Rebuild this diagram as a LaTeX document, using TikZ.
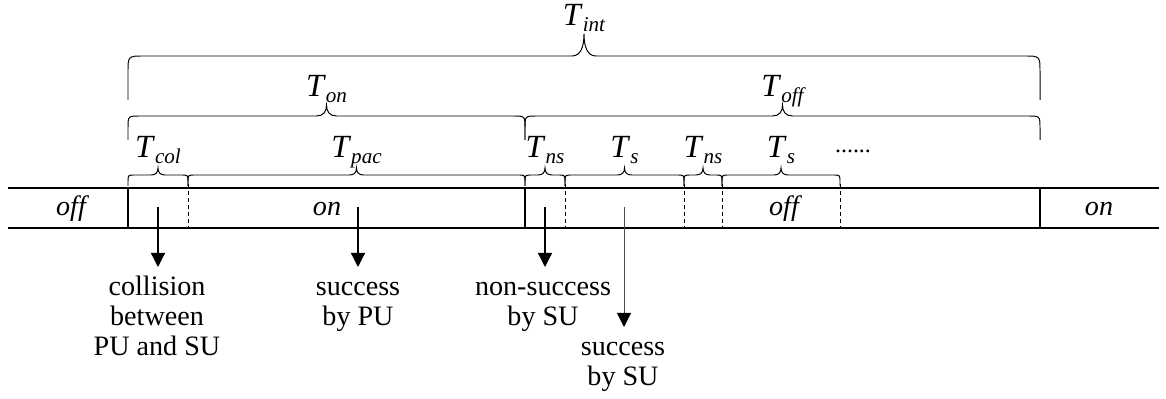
\documentclass[tikz,border=0pt]{standalone}
\usepackage{fontspec}
\setmainfont{Liberation Serif}
\usetikzlibrary{arrows.meta}

% T with a lowered italic index
\newcommand{\tlab}[1]{\textit{T}\raisebox{-4pt}{\fontsize{15}{15}\selectfont\itshape #1}}

\begin{document}
\begin{tikzpicture}[x=0.025cm,y=-0.025cm,
	band/.style={line width=1.4pt},
	slot/.style={line width=0.6pt,dash pattern=on 3pt off 2pt},
	brc/.style={line width=0.7pt},
	tlabel/.style={anchor=base,inner sep=0pt,font=\fontsize{23}{23}\selectfont},
	state/.style={anchor=base,inner sep=0pt,font=\fontsize{20}{22}\selectfont\itshape},
	event/.style={anchor=north,inner sep=0pt,align=center,font=\fontsize{20}{21.3}\selectfont},
	evarrow/.style={line width=0.9pt,-{Triangle[length=10pt,width=10pt,color=black]},shorten >=0.175cm}]
	
	\useasboundingbox (0,0) rectangle (1166,399);
	
	% Channel band
	\draw[band] (8,188) -- (1159,188) (8,228) -- (1159,228);
	\foreach \x in {128,525,1040}
		\draw[band] (\x,188) -- (\x,228);
	\foreach \x in {188,565,684,722,840}
		\draw[slot] (\x,184) -- (\x,228);
	
	% States
	\node[state] (st1) at (71,216) {off};
	\node[state] (st2) at (327,216) {on};
	\node[state] (st3) at (784,216) {off};
	\node[state] (st4) at (1099,216) {on};
	
	% Braces with their labels
	\foreach \xa/\xb/\yb/\yh/\yt/\r/\w/\lab/\ly/\nm in {
		128/1040/100/56/34/16/12/int/26/tint,
		128/525/140/116/105/12/10/on/97/ton,
		525/1040/140/116/105/12/10/off/97/toff,
		128/188/186/175/168/7/7/col/158/tcol,
		188/525/186/175/168/7/7/pac/158/tpac,
		525/565/186/175/168/7/7/ns/158/tnsa,
		565/684/186/175/168/7/7/s/158/tsa,
		684/722/186/175/168/7/7/ns/158/tnsb,
		722/840/186/175/168/7/7/s/158/tsb}
	{
		\pgfmathsetmacro\xm{(\xa+\xb)/2}
		\draw[brc] (\xa,\yb) -- (\xa,{\yh+\r}) .. controls (\xa,\yh) .. ({\xa+\r},\yh)
		-- ({\xm-\w},\yh) .. controls ({\xm-0.3*\w},\yh) and (\xm,{\yh-0.4*(\yh-\yt)}) .. (\xm,\yt)
		.. controls (\xm,{\yh-0.4*(\yh-\yt)}) and ({\xm+0.3*\w},\yh) .. ({\xm+\w},\yh)
		-- ({\xb-\r},\yh) .. controls (\xb,\yh) .. (\xb,{\yh+\r}) -- (\xb,\yb);
		\node[tlabel] (\nm) at (\xm,\ly) {\tlab{\lab}};
	}
	\node[anchor=base,inner sep=0pt,font=\fontsize{17}{20}\selectfont] (dots) at (853,153) {......};
	
	% Events
	\coordinate (e1) at (158,207);
	\coordinate (e2) at (358,207);
	\coordinate (e3) at (545,207);
	\coordinate (e4) at (624,207);
	\node[event] (coll) at (157,274) {\strut collision\\between\\PU and SU};
	\node[event] (spu) at (358,274) {\strut success\\by PU};
	\node[event] (nsu) at (543,274) {\strut non-success\\by SU};
	\node[event] (ssu) at (623,334) {\strut success\\by SU};
	\draw[evarrow] (e1) -- (e1 |- coll.north);
	\draw[evarrow] (e2) -- (e2 |- spu.north);
	\draw[evarrow] (e3) -- (e3 |- nsu.north);
	\draw[evarrow,line width=0.6pt,black!70] (e4) -- (e4 |- ssu.north);
	
\end{tikzpicture}
\end{document}
